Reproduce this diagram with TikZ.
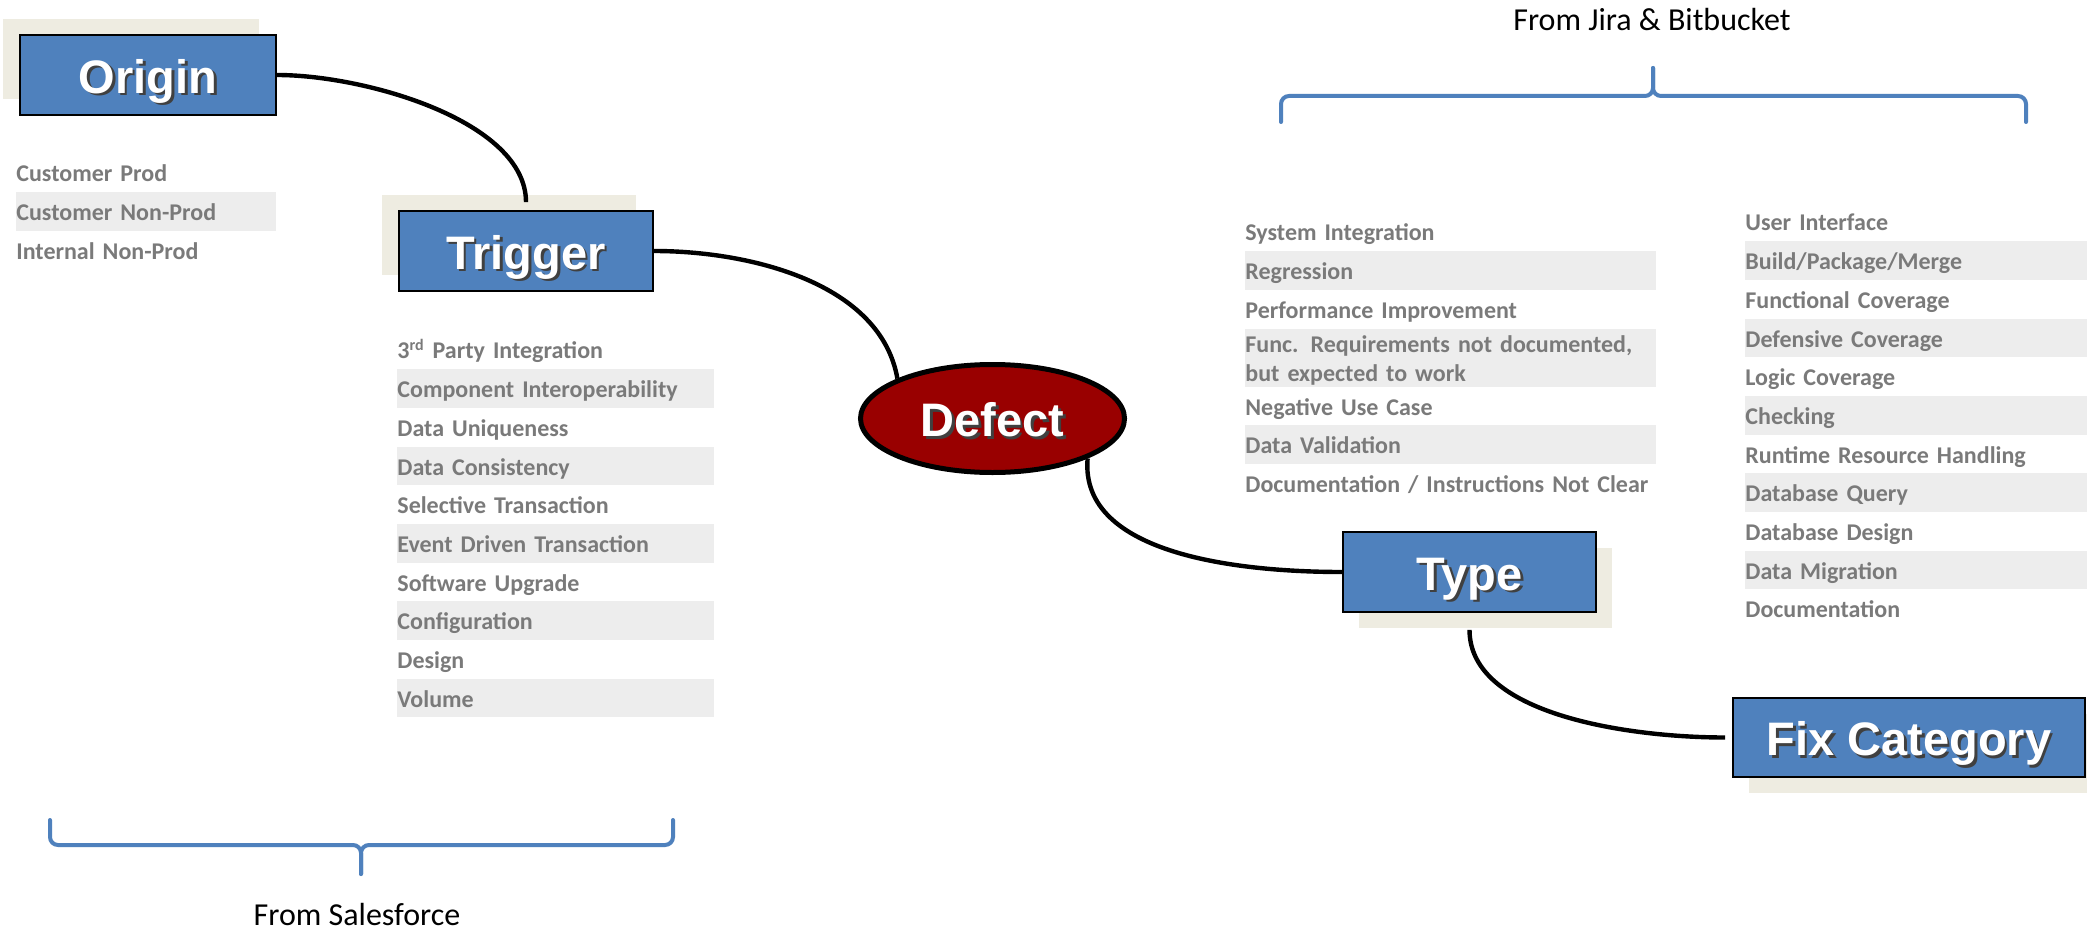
\documentclass[tikz,border=0pt]{standalone}
\usepackage{fontspec}
\usetikzlibrary{shapes.geometric,shadows}
\newfontfamily\titlefamily{Liberation Sans}
\newfontfamily\calfamily{Carlito}
\definecolor{boxblue}{HTML}{4F81BD}
\definecolor{beige}{HTML}{EEECE1}
\definecolor{bandgray}{HTML}{EDEDED}
\definecolor{itemgray}{HTML}{7A7A7A}
\definecolor{defectred}{HTML}{990000}
\newcommand{\shtext}[1]{\makebox[0pt][l]{\hspace{1.3pt}\raisebox{-1.3pt}{\textcolor{black!75}{#1}}}#1}
\begin{document}
\begin{tikzpicture}[x=0.5pt,y=-0.5pt,
  titlefont/.style={font=\titlefamily\bfseries\fontsize{23.5}{28}\selectfont, text height=20pt, text depth=1.7pt},
  titlebox/.style={titlefont, draw=black, line width=0.9pt, fill=boxblue, text=white, inner sep=0pt, minimum height=40pt},
  shadowUL/.style={drop shadow={shadow xshift=-8.5pt, shadow yshift=8pt, fill=beige, opacity=1}},
  shadowDR/.style={drop shadow={shadow xshift=8pt, shadow yshift=-8pt, fill=beige, opacity=1}},
  item/.style={anchor=north west, inner sep=0pt, text width=#1, align=left, minimum height=19.35pt, text height=11pt, text depth=1.8pt, text=itemgray, font=\calfamily\bfseries\fontsize{12}{14.5}\selectfont},
  band/.style={item=#1, fill=bandgray},
  conn/.style={draw=black, line width=2.2pt},
  brace/.style={draw=boxblue, line width=2pt, rounded corners=4pt, line cap=round},
  lbl/.style={anchor=base, inner sep=0pt, font=\calfamily\fontsize{16}{19}\selectfont}
]
\useasboundingbox (0,0) rectangle (2087,931);
\fill[white] (0,0) rectangle (2087,931);

% list items: Origin
\node[item=130pt] (o1) at (16,153) {Customer Prod};
\node[band=130pt] (o2) at (16,191.7) {Customer Non-Prod};
\node[item=130pt] (o3) at (16,230.4) {Internal Non-Prod};

% list items: Trigger
\node[item=158.5pt] (t1) at (397,330) {3\textsuperscript{rd} Party Integration};
\node[band=158.5pt] (t2) at (397,368.7) {Component Interoperability};
\node[item=158.5pt] (t3) at (397,407.4) {Data Uniqueness};
\node[band=158.5pt] (t4) at (397,446.1) {Data Consistency};
\node[item=158.5pt] (t5) at (397,484.8) {Selective Transaction};
\node[band=158.5pt] (t6) at (397,523.5) {Event Driven Transaction};
\node[item=158.5pt] (t7) at (397,562.2) {Software Upgrade};
\node[band=158.5pt] (t8) at (397,600.9) {Configuration};
\node[item=158.5pt] (t9) at (397,639.6) {Design};
\node[band=158.5pt] (t10) at (397,678.3) {Volume};

% list items: Type
\node[item=205.5pt] (y1) at (1245,212) {System Integration};
\node[band=205.5pt] (y2) at (1245,250.7) {Regression};
\node[item=205.5pt] (y3) at (1245,289.4) {Performance Improvement};
\node[band=205.5pt, minimum height=29pt, text depth=16.3pt] (y4) at (1245,328.1) {Func. Requirements not documented,\\ but expected to work};
\node[item=205.5pt] (y5) at (1245,386.1) {Negative Use Case};
\node[band=205.5pt] (y6) at (1245,424.8) {Data Validation};
\node[item=205.5pt] (y7) at (1245,463.5) {Documentation / Instructions Not Clear};

% list items: Fix Category
\node[item=175pt] (f1) at (1745,202) {User Interface};
\node[band=175pt] (f2) at (1745,240.7) {Build/Package/Merge};
\node[item=175pt] (f3) at (1745,279.4) {Functional Coverage};
\node[band=175pt] (f4) at (1745,318.1) {Defensive Coverage};
\node[item=175pt] (f5) at (1745,356.8) {Logic Coverage};
\node[band=175pt] (f6) at (1745,395.5) {Checking};
\node[item=175pt] (f7) at (1745,434.2) {Runtime Resource Handling};
\node[band=175pt] (f8) at (1745,472.9) {Database Query};
\node[item=175pt] (f9) at (1745,511.6) {Database Design};
\node[band=175pt] (f10) at (1745,550.3) {Data Migration};
\node[item=175pt] (f11) at (1745,589) {Documentation};

% main nodes
\node[titlebox, shadowUL, minimum width=128pt] (origin) at (148,75) {\shtext{Origin}};
\node[titlebox, shadowUL, minimum width=127pt] (trigger) at (526,251) {\shtext{Trigger}};
\node[titlebox, shadowDR, minimum width=126.5pt] (type) at (1469.5,572) {\shtext{Type}};
\node[titlebox, shadowDR, minimum width=176pt, minimum height=39.5pt] (fix) at (1909,737.5) {\shtext{Fix Category}};
\node[ellipse, titlefont, draw=black, line width=2.5pt, fill=defectred, text=white, minimum width=132pt, minimum height=54pt, inner sep=0pt] (defect) at (992.5,418.5) {\shtext{Defect}};

% connectors
\draw[conn, shorten >=4pt] (origin.east) to[out=0, in=90, looseness=0.8] (trigger.north);
\draw[conn] (trigger.east) to[out=0, in=100, looseness=0.9] (defect.north west);
\draw[conn] (defect.south east) to[out=-95, in=180, looseness=0.9] (type.west);
\draw[conn, shorten <=8.5pt, shorten >=3.5pt] (type.south) to[out=-90, in=180, looseness=0.9] (fix.west);

% braces
\draw[brace] (50,820) -- (50,845) -- (361,845) -- (361,874);
\draw[brace] (673,820) -- (673,845) -- (361,845) -- (361,874);
\draw[brace] (1281,122) -- (1281,96) -- (1653,96) -- (1653,68);
\draw[brace] (2026,122) -- (2026,96) -- (1653,96) -- (1653,68);

% labels
\node[lbl] (sf) at (357,925) {From Salesforce};
\node[lbl] (jira) at (1652,31) {From Jira \& Bitbucket};
\end{tikzpicture}
\end{document}
